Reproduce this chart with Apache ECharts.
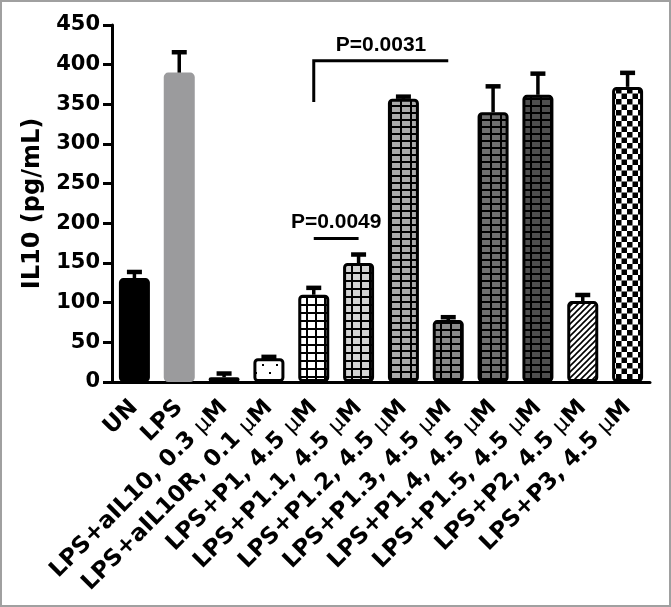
<!DOCTYPE html>
<html>
<head>
<meta charset="utf-8">
<script src="https://cdn.jsdelivr.net/npm/echarts@6/dist/echarts.min.js"></script>
<style>
html,body{margin:0;padding:0;background:#fff;}
#main{width:671px;height:607px;}
</style>
</head>
<body>
<div id="main"></div>
<script>
// ---- data ----
const categories = ['UN', 'LPS', 'LPS+aIL10, 0.3 μM', 'LPS+aIL10R, 0.1 μM', 'LPS+P1, 4.5 μM',
  'LPS+P1.1, 4.5 μM', 'LPS+P1.2, 4.5 μM', 'LPS+P1.3, 4.5 μM', 'LPS+P1.4, 4.5 μM',
  'LPS+P1.5, 4.5 μM', 'LPS+P2, 4.5 μM', 'LPS+P3, 4.5 μM'];
const means  = [131, 390, 6, 30, 110, 150, 357, 78, 340, 362, 102, 372];
const errTop = [139, 416, 11, 32, 119, 161, 360, 82, 373, 389, 110, 390];
const yTicks = { min: 0, max: 450, interval: 50 };
// significance brackets: from category, to category, bar level, left-leg bottom, text level
const bracketFrom  = [4, 4];
const bracketTo    = [7, 5];
const bracketLevel = [405, 181];
const bracketLeg   = [353, 181];
const bracketTextLevel = [424, 201];
const bracketText  = ['P=0.0031', 'P=0.0049'];

// ---- patterns (styles) ----
function mk(w, h, draw) {
  const c = document.createElement('canvas');
  c.width = w; c.height = h;
  const g = c.getContext('2d');
  draw(g, w, h);
  return { image: c, repeat: 'repeat' };
}
function gridPat(bg, w, h, lw) {
  return mk(w, h, (g) => {
    g.fillStyle = bg; g.fillRect(0, 0, w, h);
    g.fillStyle = '#000';
    g.fillRect(0, 0, w, lw);
    g.fillRect(0, 0, lw, h);
  });
}
const dotPat = mk(14, 16, (g, w, h) => {
  g.fillStyle = '#fff'; g.fillRect(0, 0, w, h);
  g.fillStyle = '#000';
  g.fillRect(3, 4, 2, 2);
  g.fillRect(10, 12, 2, 2);
});
const hatchPat = mk(6, 6, (g, w, h) => {
  g.fillStyle = '#fff'; g.fillRect(0, 0, w, h);
  g.strokeStyle = '#000'; g.lineWidth = 1.6;
  g.beginPath();
  g.moveTo(0, 6); g.lineTo(6, 0);
  g.moveTo(-1, 1); g.lineTo(1, -1);
  g.moveTo(5, 7); g.lineTo(7, 5);
  g.stroke();
});
const checkPat = mk(11, 11, (g) => {
  g.fillStyle = '#fff'; g.fillRect(0, 0, 11, 11);
  g.fillStyle = '#000';
  g.fillRect(0, 0, 5.5, 5.5);
  g.fillRect(5.5, 5.5, 5.5, 5.5);
});
const fills = [
  '#000000', '#9b9b9d', '#ffffff', dotPat,
  gridPat('#ffffff', 9, 8, 2), gridPat('#d3d3d3', 9, 8, 2),
  gridPat('#aaaaaa', 10, 7, 2), gridPat('#8a8a8a', 10, 7, 2),
  gridPat('#707070', 10, 7, 2), gridPat('#4f4f4f', 10, 7, 2),
  hatchPat, checkPat
];
const borders = categories.map((c, i) => i === 1 ? '#9b9b9d' : '#000000');

const chart = echarts.init(document.getElementById('main'), null, { renderer: 'canvas' });
const muFmt = (v) => v.replace('μ', '{mu|μ}');

chart.setOption({
  animation: false,
  backgroundColor: '#ffffff',
  graphic: [{
    type: 'rect', silent: true, z: 100,
    shape: { x: 1, y: 1, width: 669, height: 605 },
    style: { fill: 'none', stroke: '#a0a0a0', lineWidth: 2 }
  }],
  grid: { left: 112, right: 21, top: 25, bottom: 225, containLabel: false },
  xAxis: {
    type: 'category',
    data: categories,
    axisLine: { lineStyle: { color: '#000', width: 3 } },
    axisTick: { alignWithLabel: true, length: 9, lineStyle: { color: '#000', width: 3 } },
    axisLabel: {
      rotate: 45, interval: 0, margin: 22,
      color: '#000', fontFamily: 'DejaVu Sans', fontWeight: 'bold', fontSize: 23,
      formatter: muFmt,
      rich: { mu: { fontFamily: 'DejaVu Sans', fontWeight: 'normal', fontSize: 22, color: '#000' } }
    }
  },
  yAxis: {
    type: 'value',
    min: yTicks.min, max: yTicks.max, interval: yTicks.interval,
    name: 'IL10 (pg/mL)',
    nameLocation: 'middle', nameGap: 60, nameRotate: 90,
    nameTextStyle: { color: '#000', fontFamily: 'DejaVu Sans', fontWeight: 'bold', fontSize: 24 },
    axisLine: { show: true, lineStyle: { color: '#000', width: 3 } },
    axisTick: { show: true, length: 9, lineStyle: { color: '#000', width: 3 } },
    splitLine: { show: false },
    axisLabel: { color: '#000', fontFamily: 'DejaVu Sans', fontWeight: 'bold', fontSize: 21, margin: 12 }
  },
  series: [
    {
      type: 'bar',
      barWidth: 31,
      data: means.map((v, i) => ({
        value: v,
        itemStyle: { color: fills[i], borderColor: borders[i], borderWidth: 3, borderRadius: 3 }
      })),
      z: 2
    },
    {
      type: 'custom',
      z: 3,
      data: means.map((v, i) => [i, v, errTop[i]]),
      renderItem: function (params, api) {
        const b = api.coord([api.value(0), api.value(1)]);
        const t = api.coord([api.value(0), api.value(2)]);
        return {
          type: 'group',
          children: [
            { type: 'line', shape: { x1: b[0], y1: b[1], x2: b[0], y2: t[1] },
              style: { stroke: '#000', lineWidth: 3.5 } },
            { type: 'rect', shape: { x: b[0] - 7.5, y: t[1] - 2, width: 15, height: 4.5 },
              style: { fill: '#000' } }
          ]
        };
      }
    },
    {
      type: 'custom',
      z: 4,
      data: bracketFrom.map((f, i) => [f, bracketTo[i], bracketLevel[i], bracketLeg[i], bracketTextLevel[i]]),
      renderItem: function (params, api) {
        const a = api.coord([api.value(0), api.value(2)]);
        const c = api.coord([api.value(1), api.value(2)]);
        const leg = api.coord([api.value(0), api.value(3)]);
        const txt = api.coord([api.value(0), api.value(4)]);
        return {
          type: 'group',
          children: [
            { type: 'polyline', shape: { points: [[leg[0], leg[1]], [a[0], a[1]], [c[0], c[1]]] },
              style: { stroke: '#000', lineWidth: 3, fill: null } },
            { type: 'text', style: {
                text: bracketText[params.dataIndex],
                x: (a[0] + c[0]) / 2, y: txt[1],
                align: 'center', verticalAlign: 'middle',
                fill: '#000', font: 'bold 21px "Liberation Sans"'
              } }
          ]
        };
      }
    }
  ]
});
</script>
</body>
</html>
